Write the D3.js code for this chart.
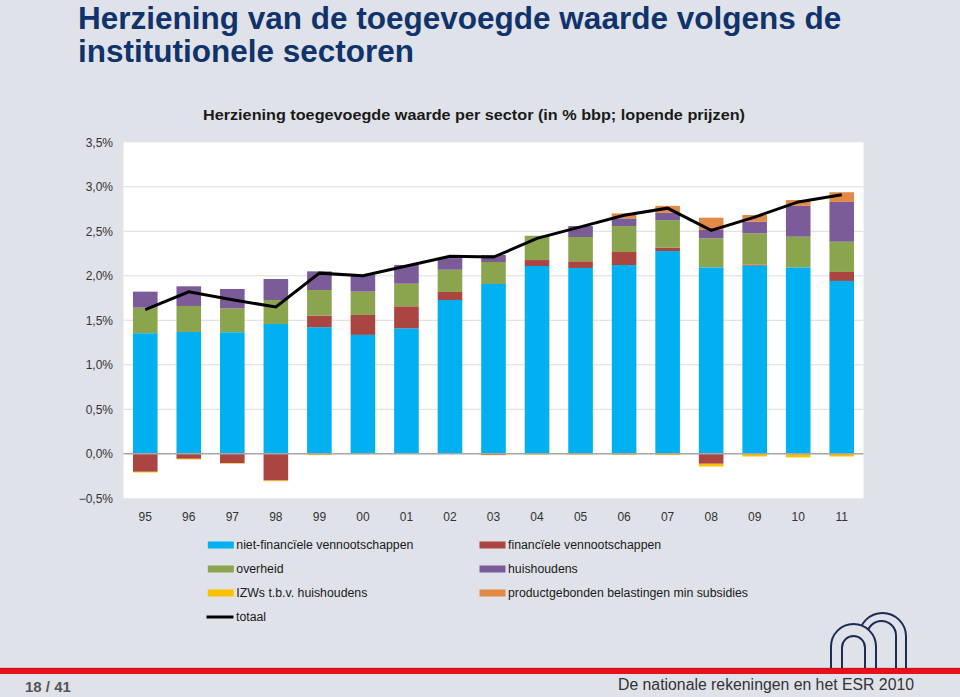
<!DOCTYPE html>
<html>
<head>
<meta charset="utf-8">
<script src="https://cdn.jsdelivr.net/npm/d3@7/dist/d3.min.js"></script>
<style>
  html, body { margin: 0; padding: 0; background: #dfe2e8; }
  svg { display: block; font-family: "Liberation Sans", Arial, sans-serif; }
</style>
</head>
<body>
<svg id="chart" width="960" height="697"></svg>
<script>
// ---------- data ----------
const categories = ["95","96","97","98","99","00","01","02","03","04","05","06","07","08","09","10","11"];
const nietFinancieel = [1.355,1.369,1.366,1.459,1.422,1.336,1.410,1.728,1.908,2.110,2.088,2.121,2.278,2.095,2.114,2.095,1.942];
const financieel     = [-0.202,-0.056,-0.105,-0.300,0.130,0.224,0.247,0.090,-0.012,0.067,0.075,0.146,0.037,-0.112,0.011,0.000,0.101];
const overheid       = [0.287,0.292,0.269,0.269,0.288,0.262,0.254,0.250,0.247,0.273,0.273,0.292,0.310,0.326,0.352,0.344,0.340];
const izws           = [-0.008,-0.008,-0.006,-0.008,-0.015,-0.005,0.000,0.000,-0.004,-0.010,-0.010,-0.012,-0.015,-0.030,-0.030,-0.040,-0.030];
const huishoudens    = [0.180,0.221,0.217,0.236,0.210,0.187,0.210,0.131,0.079,0.000,0.123,0.086,0.082,0.094,0.131,0.348,0.447];
const productgeb     = [0,0,0,0,0,0,0,0,0,0,0,0.056,0.079,0.138,0.075,0.064,0.109];
const totaal         = [1.62,1.82,1.73,1.65,2.03,2.00,2.11,2.22,2.21,2.42,2.55,2.68,2.76,2.51,2.66,2.83,2.91];
const yTicks = [-0.5,0,0.5,1,1.5,2,2.5,3,3.5];

const seriesKeys   = ["nietFin","fin","overheid","izw","huish","prod"];
const seriesLabels = ["niet-financïele vennootschappen","financïele vennootschappen","overheid","huishoudens","IZWs t.b.v. huishoudens","productgebonden belastingen min subsidies"];
const seriesColors = {nietFin:"#00b0f0", fin:"#ab4542", overheid:"#8ba54f", izw:"#ffc000", huish:"#7b5c99", prod:"#e28a45"};
const seriesValues = {nietFin:nietFinancieel, fin:financieel, overheid:overheid, izw:izws, huish:huishoudens, prod:productgeb};

const rows = categories.map((c,i) => {
  const r = {cat:c};
  seriesKeys.forEach(k => r[k] = seriesValues[k][i]);
  return r;
});

// ---------- layout ----------
const svg = d3.select("#chart");
const plot = {left:123.5, right:863.5, top:142.3, bottom:498.3};

// titles
const title = svg.append("g").attr("fill","#11336b").attr("font-weight","bold").attr("font-size","31.5px");
title.append("text").attr("x",78).attr("y",29).text("Herziening van de toegevoegde waarde volgens de");
title.append("text").attr("x",78).attr("y",62).text("institutionele sectoren");

svg.append("text").attr("x",474).attr("y",120).attr("text-anchor","middle")
  .attr("font-weight","bold").attr("font-size","14px").attr("fill","#1a1a1a")
  .attr("textLength",542).attr("lengthAdjust","spacingAndGlyphs")
  .text("Herziening toegevoegde waarde per sector (in % bbp; lopende prijzen)");

// plot background
svg.append("rect").attr("x",plot.left).attr("y",plot.top)
  .attr("width",plot.right-plot.left).attr("height",plot.bottom-plot.top).attr("fill","#ffffff");

const x = d3.scaleBand().domain(categories).range([plot.left,plot.right]).paddingInner(0.435).paddingOuter(0.2175);
const y = d3.scaleLinear().domain([-0.5,3.5]).range([plot.bottom,plot.top]);

// gridlines
svg.append("g").selectAll("line").data(yTicks.filter(t => t>-0.5 && t<3.5 && t!==0)).join("line")
  .attr("x1",plot.left).attr("x2",plot.right)
  .attr("y1",d=>y(d)).attr("y2",d=>y(d))
  .attr("stroke","#dcdcdc").attr("stroke-width",1);

// stacked bars
const stack = d3.stack().keys(seriesKeys).offset(d3.stackOffsetDiverging);
const stacked = stack(rows);
svg.append("g").selectAll("g").data(stacked).join("g")
  .attr("fill", d => seriesColors[d.key])
  .selectAll("rect").data(d => d).join("rect")
  .attr("x", d => x(d.data.cat))
  .attr("width", x.bandwidth())
  .attr("y", d => y(Math.max(d[0],d[1])))
  .attr("height", d => Math.abs(y(d[0]) - y(d[1])));

// zero line
svg.append("line").attr("x1",plot.left).attr("x2",plot.right)
  .attr("y1",y(0)).attr("y2",y(0)).attr("stroke","#a6a6a6").attr("stroke-width",1.5);

// total line
const line = d3.line().x((d,i) => x(categories[i]) + x.bandwidth()/2).y(d => y(d));
svg.append("path").datum(totaal).attr("d",line)
  .attr("fill","none").attr("stroke","#000").attr("stroke-width",3).attr("stroke-linejoin","miter");

// axes
const fmt = d => d3.format(".1f")(d).replace(".",",") + "%";
const yAxis = svg.append("g").attr("transform",`translate(${plot.left},0)`)
  .call(d3.axisLeft(y).tickValues(yTicks).tickFormat(fmt).tickSize(0).tickPadding(10.5));
yAxis.select(".domain").remove();
yAxis.selectAll("text").attr("font-size","12px").attr("fill","#333").attr("font-family","'Liberation Sans', Arial, sans-serif");

const xAxis = svg.append("g").attr("transform",`translate(0,${plot.bottom})`)
  .call(d3.axisBottom(x).tickSize(0).tickPadding(14));
xAxis.select(".domain").remove();
xAxis.selectAll("text").attr("font-size","12px").attr("fill","#333").attr("font-family","'Liberation Sans', Arial, sans-serif");

// legend
const legendItems = [
  {key:"nietFin", col:0, row:0, label:seriesLabels[0]},
  {key:"fin",     col:1, row:0, label:seriesLabels[1]},
  {key:"overheid",col:0, row:1, label:seriesLabels[2]},
  {key:"huish",   col:1, row:1, label:seriesLabels[3]},
  {key:"izw",     col:0, row:2, label:seriesLabels[4]},
  {key:"prod",    col:1, row:2, label:seriesLabels[5]}
];
const colX = [207.8, 479.5], rowY = [545, 569, 593, 617];
const lg = svg.append("g").attr("font-size","12.3px").attr("fill","#1a1a1a");
legendItems.forEach(it => {
  lg.append("rect").attr("x",colX[it.col]).attr("y",rowY[it.row]-3.5).attr("width",26).attr("height",7)
    .attr("fill",seriesColors[it.key]);
  lg.append("text").attr("x",colX[it.col]+28.5).attr("y",rowY[it.row]).attr("dy","0.35em").text(it.label);
});
lg.append("line").attr("x1",206.5).attr("x2",233.5).attr("y1",rowY[3]).attr("y2",rowY[3])
  .attr("stroke","#000").attr("stroke-width",3);
lg.append("text").attr("x",236).attr("y",rowY[3]).attr("dy","0.35em").text("totaal");

// logo (arches)
function arch(x1,x2,top,bottom){
  const r=(x2-x1)/2, spring=top+r;
  return `M${x1},${bottom} L${x1},${spring} A${r},${r} 0 0 1 ${x2},${spring} L${x2},${bottom}`;
}
const logo = svg.append("g").attr("stroke","#1b2d55").attr("stroke-width",2).attr("fill","#dfe2e8");
logo.append("path").attr("d",arch(859,906,613,669));
logo.append("path").attr("d",arch(867,896,621,669));
logo.append("path").attr("d",arch(831,876,624,669));
logo.append("path").attr("d",arch(842,865,636,669));

// footer
svg.append("rect").attr("x",0).attr("y",668).attr("width",960).attr("height",6).attr("fill","#e8101a");
svg.append("line").attr("x1",0).attr("x2",960).attr("y1",668.3).attr("y2",668.3).attr("stroke","#b0141a").attr("stroke-width",0.6);
svg.append("text").attr("x",25).attr("y",692).attr("font-size","15px").attr("font-weight","bold").attr("fill","#555")
  .text("18 / 41");
svg.append("text").attr("x",914).attr("y",690).attr("text-anchor","end").attr("font-size","16px").attr("fill","#333")
  .attr("textLength",296).attr("lengthAdjust","spacingAndGlyphs")
  .text("De nationale rekeningen en het ESR 2010");
</script>
</body>
</html>
